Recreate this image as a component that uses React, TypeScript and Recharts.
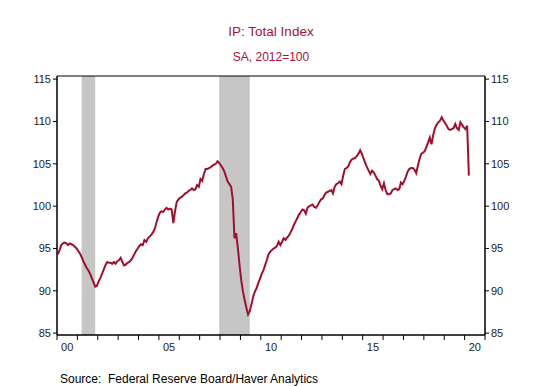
import { ComposedChart, Line, XAxis, YAxis, ReferenceArea } from "recharts";

// Industrial production: total index, SA, 2012=100, monthly from Jan 2000
const startYear = 2000;
const ipTotal = [
    // 2000
    94.3, 94.8, 95.4, 95.6, 95.7, 95.6, 95.4, 95.6, 95.5, 95.4, 95.2, 95.0,
    // 2001
    94.7, 94.4, 94.0, 93.5, 93.1, 92.7, 92.4, 92.0, 91.5, 91.0, 90.5, 90.6,
    // 2002
    91.1, 91.5, 92.0, 92.5, 93.0, 93.4, 93.3, 93.3, 93.2, 93.4, 93.2, 93.5,
    // 2003
    93.6, 93.9, 93.4, 93.0, 93.1, 93.3, 93.4, 93.6, 93.9, 94.3, 94.7, 95.0,
    // 2004
    95.3, 95.5, 95.4, 96.0, 95.8, 96.2, 96.4, 96.6, 96.9, 97.3, 98.0, 98.7,
    // 2005
    99.2, 99.4, 99.3, 99.6, 99.8, 99.6, 99.7, 99.6, 98.0, 99.4, 100.5, 100.8,
    // 2006
    101.0, 101.1, 101.3, 101.5, 101.6, 101.8, 101.9, 102.1, 101.9, 102.0, 102.5, 102.3,
    // 2007
    103.2, 103.0, 103.8, 104.4, 104.4, 104.5, 104.6, 104.8, 104.9, 105.0, 105.3, 105.1,
    // 2008
    104.8, 104.5, 104.1, 103.5, 102.9, 102.6, 102.3, 100.8, 96.2, 96.8, 95.0, 93.0,
    // 2009
    91.2, 89.9, 88.9, 88.0, 87.2, 87.6, 88.4, 89.3, 89.9, 90.3, 90.9, 91.4,
    // 2010
    92.0, 92.4, 93.0, 93.6, 94.3, 94.6, 94.8, 95.0, 95.1, 95.3, 95.8, 95.4,
    // 2011
    95.8, 96.2, 96.0, 96.3, 96.5, 96.9, 97.3, 97.8, 98.2, 98.6, 99.0, 99.3,
    // 2012
    99.6, 99.5, 99.1, 99.8, 100.0, 100.1, 100.2, 99.9, 99.8, 100.1, 100.5, 100.8,
    // 2013
    100.9, 101.3, 101.6, 101.7, 101.8, 101.9, 101.5, 102.3, 102.6, 102.7, 102.9, 102.6,
    // 2014
    103.6, 104.4, 104.5, 104.7, 105.2, 105.5, 105.6, 105.7, 105.9, 106.2, 106.6, 106.2,
    // 2015
    105.6, 105.1, 104.6, 104.2, 103.8, 104.2, 104.0, 103.6, 103.2, 103.0, 102.4, 102.0,
    // 2016
    102.7, 101.9, 101.4, 101.4, 101.5, 101.9, 102.0, 102.1, 101.9, 102.0, 102.8, 102.6,
    // 2017
    103.0, 103.5, 104.1, 104.4, 104.5, 104.5, 104.3, 103.9, 104.8, 105.6, 106.2, 106.3,
    // 2018
    106.5, 107.0, 107.5, 108.1, 107.3, 108.4, 109.2, 109.6, 109.9, 110.1, 110.5, 110.1,
    // 2019
    109.8, 109.5, 109.1, 109.0, 109.1, 109.2, 109.7, 109.2, 109.0, 109.9, 109.6, 109.3,
    // 2020
    109.1, 109.5, 103.6,
];

// NBER recessions as [year, month]
const recessionStarts = [[2001, 3], [2007, 12]];
const recessionEnds = [[2001, 11], [2009, 6]];

const yTicks = [85, 90, 95, 100, 105, 110, 115];
const yearTicks = Array.from({ length: 22 }, (_, i) => startYear + i);
const labelYears = [2000, 2005, 2010, 2015, 2020];
const yearLabels = ["00", "05", "10", "15", "20"];

const W = 542;
const H = 386;
const AXIS_W = 57;
const PLOT_W = W - 2 * AXIS_W;
const YEAR_W = PLOT_W / 21;
const Y_DOMAIN: [number, number] = [84.78, 115.37];

const RED = "#a5123a";
const LINE_RED = "#a00f2e";
const FONT = "Arial, 'Liberation Sans', sans-serif";

// monthly points sit mid-month
const toT = (y: number, m: number) => y + (m - 0.5) / 12;

const data = ipTotal.map((v, i) => ({ t: startYear + (i + 0.5) / 12, ip: v }));

const YearTick = ({ x, y, payload }: any) => {
    const idx = labelYears.indexOf(payload.value);
    if (idx < 0) return <g />;
    return (
        <text x={x + YEAR_W / 2} y={y} dy="0.71em" textAnchor="middle" fontSize={11} fill="#222" fontFamily={FONT}>
            {yearLabels[idx]}
        </text>
    );
};

export default function App() {
    return (
        <div style={{ position: "absolute", left: 0, top: 0, width: W, height: H, background: "#fff", fontFamily: FONT }}>
            <div style={{ position: "absolute", top: 24, left: 0, width: W, textAlign: "center", fontSize: 13.5, lineHeight: "16px", color: RED }}>
                IP: Total Index
            </div>
            <div style={{ position: "absolute", top: 50, left: 0, width: W, textAlign: "center", fontSize: 12, lineHeight: "14px", color: RED }}>
                SA, 2012=100
            </div>

            <ComposedChart width={W} height={H} data={data} margin={{ top: 76, right: 0, bottom: 0, left: 0 }}>
                <XAxis
                    dataKey="t"
                    type="number"
                    domain={[2000, 2021]}
                    ticks={yearTicks}
                    interval={0}
                    height={51}
                    tick={<YearTick />}
                    tickSize={5}
                    tickMargin={3}
                    stroke="#000"
                    allowDataOverflow
                />
                <YAxis
                    yAxisId="left"
                    domain={Y_DOMAIN}
                    ticks={yTicks}
                    width={AXIS_W}
                    tickSize={4}
                    tickMargin={2}
                    stroke="#000"
                    tick={{ fontSize: 11, fill: "#222", fontFamily: FONT }}
                    allowDataOverflow
                />
                <YAxis
                    yAxisId="right"
                    orientation="right"
                    domain={Y_DOMAIN}
                    ticks={yTicks}
                    width={AXIS_W}
                    tickSize={4}
                    tickMargin={2}
                    stroke="#000"
                    tick={{ fontSize: 11, fill: "#222", fontFamily: FONT, textAnchor: "start" }}
                    allowDataOverflow
                />
                {recessionStarts.map((s, i) => (
                    <ReferenceArea
                        key={`rec-${i}`}
                        yAxisId="left"
                        x1={toT(s[0], s[1])}
                        x2={toT(recessionEnds[i][0], recessionEnds[i][1])}
                        y1={Y_DOMAIN[0]}
                        y2={Y_DOMAIN[1]}
                        fill="#c6c6c6"
                        fillOpacity={1}
                        stroke="none"
                    />
                ))}
                <ReferenceArea
                    yAxisId="left"
                    x1={2000}
                    x2={2021}
                    y1={Y_DOMAIN[0]}
                    y2={Y_DOMAIN[1]}
                    fill="none"
                    stroke="#000"
                    strokeWidth={1}
                />
                <Line
                    yAxisId="left"
                    dataKey="ip"
                    type="linear"
                    stroke={LINE_RED}
                    strokeWidth={2}
                    dot={false}
                    isAnimationActive={false}
                />
            </ComposedChart>

            <div style={{ position: "absolute", top: 372, left: 60, fontSize: 12, lineHeight: "14px", color: "#000", whiteSpace: "pre" }}>
                Source:  Federal Reserve Board/Haver Analytics
            </div>
        </div>
    );
}
